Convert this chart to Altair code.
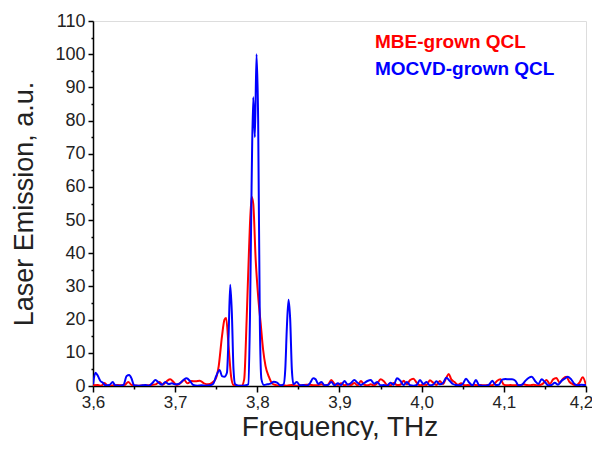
import altair as alt
import pandas as pd

# MBE-grown QCL (red)
mbe_freq = [3.600, 3.606, 3.610, 3.614, 3.618, 3.625, 3.630, 3.638, 3.643, 3.647,
            3.655, 3.665, 3.670, 3.676, 3.681, 3.685, 3.690, 3.694, 3.698, 3.702,
            3.707, 3.711, 3.715, 3.720, 3.725, 3.730, 3.735, 3.740, 3.745, 3.749,
            3.753, 3.757, 3.760, 3.762, 3.765, 3.768, 3.771, 3.776, 3.781, 3.784,
            3.787, 3.790, 3.793, 3.795, 3.798, 3.801, 3.804, 3.807, 3.810, 3.814,
            3.818, 3.822, 3.826, 3.830, 3.836, 3.842, 3.848, 3.854, 3.860, 3.866,
            3.872, 3.878, 3.882, 3.886, 3.890, 3.894, 3.898, 3.902, 3.906, 3.910,
            3.914, 3.918, 3.922, 3.926, 3.930, 3.934, 3.938, 3.942, 3.946, 3.950,
            3.954, 3.958, 3.962, 3.966, 3.970, 3.974, 3.978, 3.982, 3.986, 3.990,
            3.994, 3.998, 4.002, 4.006, 4.010, 4.014, 4.018, 4.022, 4.026, 4.030,
            4.033, 4.036, 4.040, 4.044, 4.048, 4.052, 4.056, 4.060, 4.064, 4.068,
            4.072, 4.076, 4.080, 4.084, 4.088, 4.092, 4.096, 4.100, 4.104, 4.108,
            4.112, 4.116, 4.120, 4.124, 4.128, 4.132, 4.136, 4.140, 4.144, 4.148,
            4.152, 4.156, 4.160, 4.164, 4.168, 4.172, 4.176, 4.180, 4.184, 4.188,
            4.192, 4.196, 4.200]
mbe_val = [0.2, 0.3, 0.1, 0.9, 0.1, 0.2, 0.3, 0.2, 1.2, 0.3,
           0.1, 0.2, 0.3, 0.5, 1.2, 0.4, 1.5, 2.0, 1.2, 0.3,
           1.0, 1.8, 0.8, 1.5, 1.4, 1.6, 0.8, 0.5, 1.0, 2.0,
           6.0, 15.0, 20.0, 20.5, 12.0, 3.0, 0.3, 0.1, 0.1, 2.0,
           20.0, 42.0, 57.0, 55.0, 38.0, 27.0, 19.0, 11.0, 6.0, 2.8,
           0.8, 0.3, 0.1, 0.2, 0.1, 0.3, 0.1, 0.2, 0.4, 0.3,
           0.2, 0.5, 0.2, 0.4, 1.8, 0.6, 0.3, 0.8, 0.2, 0.5,
           0.3, 0.9, 0.2, 1.5, 0.4, 0.2, 0.5, 0.2, 0.8, 2.0,
           1.4, 0.3, 0.2, 0.9, 0.3, 0.4, 1.6, 0.5, 1.8, 2.2,
           1.0, 0.2, 0.4, 0.3, 1.7, 1.0, 0.3, 1.5, 0.6, 2.5,
           3.6, 2.0, 1.2, 0.4, 0.8, 0.2, 0.3, 0.2, 0.4, 0.2,
           0.3, 0.2, 0.3, 0.2, 0.5, 1.6, 2.0, 0.4, 0.2, 0.3,
           0.2, 0.3, 0.2, 0.5, 0.3, 0.2, 0.4, 0.2, 0.3, 0.8,
           1.8, 0.6, 2.0, 2.4, 1.0, 2.2, 2.8, 1.2, 0.5, 0.2,
           1.0, 2.6, 0.3]

# MOCVD-grown QCL (blue)
mocvd_freq = [3.600, 3.603, 3.606, 3.609, 3.612, 3.615, 3.620, 3.624, 3.627, 3.632,
              3.637, 3.641, 3.644, 3.647, 3.650, 3.655, 3.660, 3.664, 3.668, 3.672,
              3.676, 3.680, 3.684, 3.688, 3.692, 3.696, 3.700, 3.705, 3.710, 3.714,
              3.718, 3.722, 3.727, 3.732, 3.737, 3.742, 3.746, 3.750, 3.754, 3.757,
              3.760, 3.763, 3.765, 3.767, 3.769, 3.771, 3.773, 3.777, 3.782, 3.786,
              3.789, 3.791, 3.793, 3.795, 3.797, 3.799, 3.801, 3.803, 3.805, 3.808,
              3.812, 3.816, 3.820, 3.824, 3.828, 3.832, 3.834, 3.836, 3.838, 3.840,
              3.842, 3.844, 3.848, 3.852, 3.856, 3.860, 3.864, 3.868, 3.871, 3.874,
              3.878, 3.882, 3.886, 3.890, 3.894, 3.898, 3.902, 3.906, 3.910, 3.914,
              3.918, 3.922, 3.926, 3.930, 3.934, 3.938, 3.942, 3.946, 3.950, 3.954,
              3.958, 3.962, 3.966, 3.970, 3.974, 3.978, 3.982, 3.986, 3.990, 3.994,
              3.998, 4.002, 4.006, 4.010, 4.014, 4.018, 4.022, 4.026, 4.030, 4.034,
              4.038, 4.042, 4.046, 4.050, 4.054, 4.058, 4.062, 4.066, 4.070, 4.074,
              4.078, 4.082, 4.086, 4.090, 4.094, 4.098, 4.102, 4.106, 4.110, 4.114,
              4.118, 4.122, 4.126, 4.130, 4.134, 4.138, 4.142, 4.146, 4.150, 4.154,
              4.158, 4.162, 4.166, 4.170, 4.174, 4.178, 4.182, 4.186, 4.190, 4.194,
              4.198, 4.200]
mocvd_val = [0.5, 4.0, 3.0, 1.5, 1.0, 0.2, 0.3, 1.2, 0.2, 0.1,
             0.3, 3.0, 3.3, 2.2, 0.2, 0.1, 0.2, 0.3, 0.1, 0.8,
             1.8, 1.0, 0.4, 1.2, 0.6, 0.8, 0.5, 0.7, 1.8, 2.3,
             1.5, 0.3, 0.1, 0.2, 0.1, 0.2, 0.6, 3.0, 4.8, 3.0,
             2.8, 4.0, 15.0, 30.5, 22.0, 5.0, 0.5, 0.1, 0.1, 0.2,
             0.5, 20.0, 60.0, 87.0, 75.0, 100.0, 80.0, 20.0, 2.0, 0.3,
             0.5, 0.7, 1.3, 1.0, 0.2, 0.5, 5.0, 18.0, 26.0, 20.0,
             5.0, 0.5, 1.2, 0.2, 0.3, 0.1, 0.8, 2.3, 2.0, 0.6,
             1.2, 0.2, 0.3, 1.2, 0.2, 0.8, 0.3, 1.5, 0.4, 0.9,
             1.8, 1.0, 0.3, 0.9, 1.5, 1.8, 0.7, 1.2, 0.2, 0.3,
             0.1, 1.0, 0.4, 2.3, 1.6, 0.3, 1.2, 0.2, 0.1, 0.3,
             1.8, 0.6, 1.2, 0.2, 0.4, 1.4, 0.5, 0.9, 2.5, 1.6,
             0.6, 0.3, 0.2, 0.6, 2.2, 1.0, 0.2, 1.8, 0.2, 0.1,
             0.1, 0.4, 1.6, 0.3, 0.4, 1.9, 2.1, 2.0, 2.0, 1.6,
             0.2, 0.4, 1.5, 2.4, 2.8, 1.5, 0.6, 2.0, 1.2, 0.2,
             0.3, 1.0, 0.4, 1.5, 2.2, 2.8, 2.0, 0.6, 0.2, 0.4,
             0.3, 0.2]

series_names = ["MBE-grown QCL", "MOCVD-grown QCL"]
series_colors = ["#ff0000", "#0000ff"]

x_ticks = [round(3.6 + 0.05 * i, 2) for i in range(13)]
y_ticks = [5 * i for i in range(23)]

df = pd.concat([
    pd.DataFrame({"freq": mbe_freq, "val": mbe_val, "series": series_names[0]}),
    pd.DataFrame({"freq": mocvd_freq, "val": mocvd_val, "series": series_names[1]}),
])
legend_df = pd.DataFrame({"series": series_names})

FONT = "Liberation Sans"

color_scale = alt.Scale(domain=series_names, range=series_colors)

x_axis = alt.Axis(
    values=x_ticks,
    labelExpr="abs(datum.value*10 - round(datum.value*10)) < 0.01 ? replace(format(datum.value, '.1f'), '.', ',') : ''",
    tickSize={"condition": {"test": "abs(datum.value*10 - round(datum.value*10)) < 0.01", "value": 6}, "value": 3},
    labelOffset={"condition": {"test": "datum.value > 4.19", "value": -5}, "value": 0},
    grid=False, domainColor="black", domainWidth=1.5, tickColor="black", tickWidth=1.5,
    labelFont=FONT, labelFontSize=17, labelColor="#222222", labelPadding=2,
    labelOverlap=False, labelFlush=False,
    title="Frequency, THz", titleFont=FONT, titleFontSize=28, titleFontWeight="normal",
    titleColor="#222222", titlePadding=3,
)
y_axis = alt.Axis(
    values=y_ticks,
    labelExpr="datum.value % 10 == 0 ? datum.label : ''",
    tickSize={"condition": {"test": "datum.value % 10 == 0", "value": 5}, "value": 2},
    grid=False, domainColor="black", domainWidth=1.5, tickColor="black", tickWidth=1.5,
    labelFont=FONT, labelFontSize=18, labelColor="#222222", labelPadding=3,
    labelOverlap=False, labelFlush=False,
    title="Laser Emission, a.u.", titleFont=FONT, titleFontSize=27, titleFontWeight="normal",
    titleColor="#222222", titlePadding=16,
)

lines = alt.Chart(df).mark_line(strokeWidth=2, interpolate="monotone", clip=True).encode(
    x=alt.X("freq:Q", scale=alt.Scale(domain=[3.6, 4.2], nice=False, zero=False), axis=x_axis),
    y=alt.Y("val:Q", scale=alt.Scale(domain=[0, 110], nice=False), axis=y_axis),
    color=alt.Color("series:N", scale=color_scale, legend=None),
    order=alt.Order("freq:Q"),
)

legend_layers = []
for i, (name, col) in enumerate(zip(series_names, series_colors)):
    legend_layers.append(
        alt.Chart(legend_df).transform_filter(alt.datum.series == name).mark_text(
            font=FONT, fontSize=19, fontWeight="bold", align="left", baseline="alphabetic", color=col
        ).encode(
            x=alt.value(282),
            y=alt.value(27 + 27 * i),
            text="series:N",
        )
    )

chart = alt.layer(lines, *legend_layers).properties(
    width=493, height=365,
    autosize=alt.AutoSizeParams(type="none"),
    padding={"left": 85, "top": 13, "right": 6, "bottom": 54},
).configure_view(stroke="black", strokeWidth=1.5).configure(background="white")

chart.save("out.html", embed_options={"renderer": "svg", "actions": False})
